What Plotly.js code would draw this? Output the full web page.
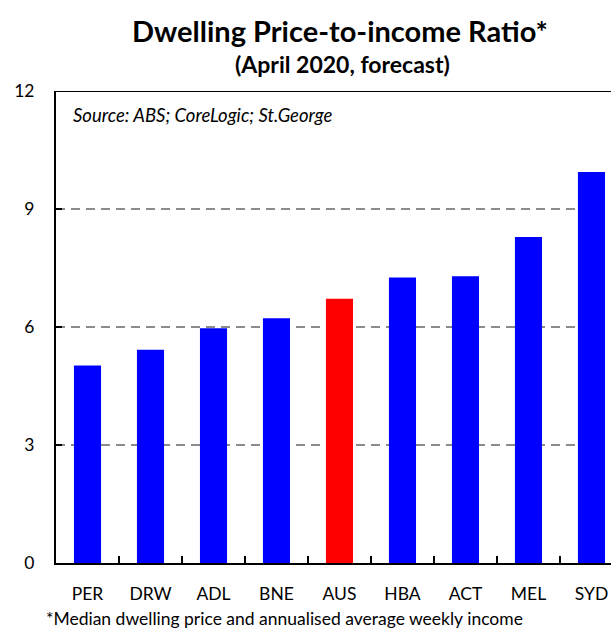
<!DOCTYPE html>
<html>
<head>
<meta charset="utf-8">
<script src="https://cdn.plot.ly/plotly-3.0.1.min.js"></script>
<style>html,body{margin:0;padding:0;background:#fff;}</style>
</head>
<body>
<div id="chart" style="width:611px;height:628px;"></div>
<script>
const categories = ["PER", "DRW", "ADL", "BNE", "AUS", "HBA", "ACT", "MEL", "SYD"];
const ratios = [5.02, 5.42, 5.97, 6.22, 6.72, 7.26, 7.29, 8.29, 9.94];
const highlight = "AUS";
const yTicks = [0, 3, 6, 9, 12];

const colors = categories.map(c => c === highlight ? "#FF0000" : "#0000FF");
const F = "Lato, 'Open Sans', sans-serif";

const trace = {
  type: "bar",
  x: categories,
  y: ratios,
  marker: {color: colors, line: {width: 0}},
  width: 0.43,
  hoverinfo: "x+y"
};

const layout = {
  width: 611,
  height: 628,
  margin: {l: 56, r: 0, t: 91, b: 65},
  paper_bgcolor: "#fff",
  plot_bgcolor: "#fff",
  font: {family: F, size: 17, color: "#000"},
  showlegend: false,
  xaxis: {
    type: "category",
    range: [-0.5, 8.31],
    showline: true, linecolor: "#000", linewidth: 2,
    ticks: "", showgrid: false,
    tickfont: {family: F, size: 17.5, color: "#000"},
    ticklabelstandoff: 14,
    fixedrange: true
  },
  yaxis: {
    range: [0, 12],
    tickvals: yTicks,
    ticktext: yTicks.map(String),
    showline: true, linecolor: "#000", linewidth: 2,
    ticks: "inside", ticklen: 6, tickwidth: 2, tickcolor: "#000",
    showgrid: true, gridcolor: "#8c8c8c", gridwidth: 2, griddash: "9px,6px",
    zeroline: false,
    tickfont: {family: F, size: 17.5, color: "#000"},
    ticklabelstandoff: 16,
    fixedrange: true
  },
  shapes: [
    {type: "line", xref: "paper", yref: "y", x0: 0, x1: 1, y0: 12, y1: 12,
     line: {color: "#000", width: 2}, layer: "above"}
  ].concat(categories.slice(0, -1).map((c, i) => ({
    type: "line", xref: "x", yref: "paper", x0: i + 0.5, x1: i + 0.5, y0: 0, y1: 0.015,
    line: {color: "#000", width: 2}, layer: "above"
  }))),
  annotations: [
    {text: "<b>Dwelling Price-to-income Ratio*</b>", showarrow: false,
     font: {family: F, size: 29, color: "#000"}},
    {text: "<b>(April 2020, forecast)</b>", showarrow: false,
     font: {family: F, size: 23, color: "#000"}},
    {text: "<i>Source: ABS; CoreLogic; St.George</i>", showarrow: false,
     font: {family: F, size: 18.5, color: "#000"}},
    {text: "*Median dwelling price and annualised average weekly income", showarrow: false,
     font: {family: F, size: 17.5, color: "#000"}}
  ]
};

// Position annotations in paper coordinates derived from pixel targets
const plotW = 611 - 56, plotH = 628 - 91 - 65;
function px(xp) { return (xp - 56) / plotW; }
function py(yp) { return (628 - 65 - yp) / plotH; }
const annPos = [
  {x: px(340), y: py(30), xanchor: "center", yanchor: "middle"},
  {x: px(342), y: py(64), xanchor: "center", yanchor: "middle"},
  {x: px(71), y: py(115), xanchor: "left", yanchor: "middle"},
  {x: px(44), y: py(618), xanchor: "left", yanchor: "middle"}
];
layout.annotations.forEach((a, i) => {
  a.xref = "paper"; a.yref = "paper";
  Object.assign(a, annPos[i]);
});

Plotly.newPlot("chart", [trace], layout, {displayModeBar: false, staticPlot: true});
</script>
</body>
</html>
